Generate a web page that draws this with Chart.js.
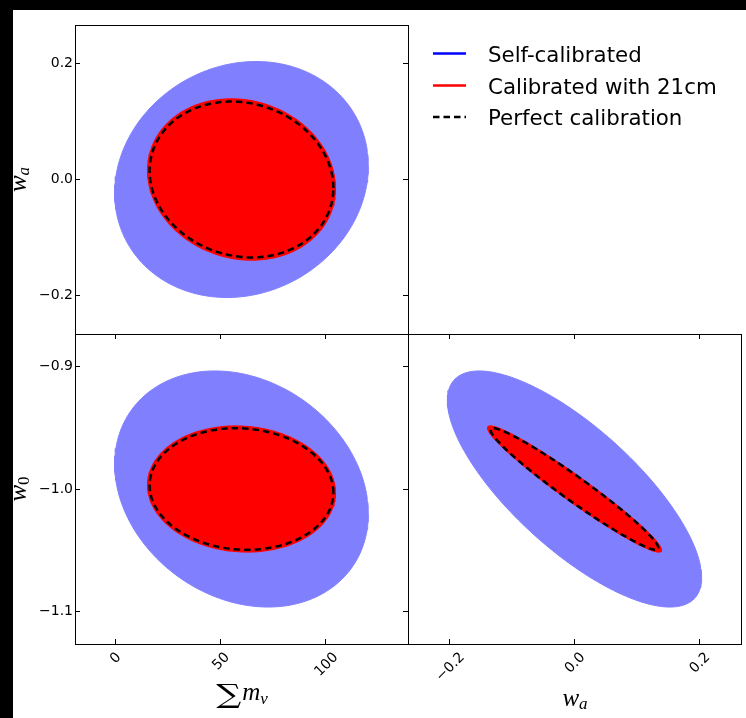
<!DOCTYPE html>
<html>
<head>
<meta charset="utf-8">
<script src="https://cdn.jsdelivr.net/npm/chart.js@4.4.0/dist/chart.umd.min.js"></script>
<style>
  html, body { margin: 0; padding: 0; background: #fff; }
  #page { position: relative; width: 746px; height: 718px; overflow: hidden; background: #fff; }
  .band { position: absolute; background: #000; }
  canvas { position: absolute; left: 0; top: 0; }
</style>
</head>
<body>
<div id="page">
  <div class="band" style="left:0;top:0;width:746px;height:10px"></div>
  <div class="band" style="left:0;top:0;width:13px;height:718px"></div>
  <canvas id="massWa" width="746" height="718"></canvas>
  <canvas id="massW0" width="746" height="718"></canvas>
  <canvas id="waW0" width="746" height="718"></canvas>
</div>
<script>
// parameter order everywhere: [sum m_nu, w0, wa]
const fiducial = [60, -1.0, 0.0];

// half-widths of each contour along each parameter
const selfHalf    = [60.2, 0.0965, 0.2037];
const withHalf    = [44.5, 0.0514, 0.1390];
const perfectHalf = [43.6, 0.0497, 0.1345];

// correlations: [mnu-wa, mnu-w0, wa-w0]
const selfRho    = [0.115, -0.21, -0.75];
const withRho    = [-0.11, -0.06, -0.97];
const perfectRho = [-0.11, -0.06, -0.97];

const seriesNames = ['Self-calibrated', 'Calibrated with 21cm', 'Perfect calibration'];

const massTicks = [0, 50, 100];
const waTicks = [-0.2, 0.0, 0.2];
const w0Ticks = [-0.9, -1.0, -1.1];

const massRange = [-19, 139];
const waRange = [-0.2667, 0.2667];
const w0Range = [-1.1267, -0.8733];

const TICK_FONT = '14px "DejaVu Sans"';
const MATH = 'italic 25px "Liberation Serif"';
const MATH_SUB = 'italic 17px "Liberation Serif"';

const fmt1 = (v) => v.toFixed(1).replace('-', '\u2212');
const fmt0 = (v) => v.toFixed(0);

// outline of a 2d contour with given centre, half-widths and correlation
const ellipse = (cx, cy, ax, ay, rho) => {
  const pts = [];
  const s = Math.sqrt(1 - rho * rho);
  for (let i = 0; i <= 180; i++) {
    const t = i / 180 * 2 * Math.PI;
    pts.push({ x: cx + ax * Math.cos(t), y: cy + ay * (rho * Math.cos(t) + s * Math.sin(t)) });
  }
  return pts;
};

const contourSets = (ix, iy, ir) => [
  {
    label: seriesNames[0],
    data: ellipse(fiducial[ix], fiducial[iy], selfHalf[ix], selfHalf[iy], selfRho[ir]),
    backgroundColor: '#8080ff', borderColor: '#8080ff', borderWidth: 1,
    fill: 'shape', order: 3
  },
  {
    label: seriesNames[1],
    data: ellipse(fiducial[ix], fiducial[iy], withHalf[ix], withHalf[iy], withRho[ir]),
    backgroundColor: '#ff0000', borderColor: '#ff0000', borderWidth: 1.5,
    fill: 'shape', order: 2
  },
  {
    label: seriesNames[2],
    data: ellipse(fiducial[ix], fiducial[iy], perfectHalf[ix], perfectHalf[iy], perfectRho[ir]),
    borderColor: '#000', borderWidth: 2.5, borderDash: [6.5, 4],
    fill: false, order: 1
  }
].map(d => ({ ...d, showLine: true, pointRadius: 0, tension: 0 }));

// one side of a panel frame; marks = inward tick marks, fmt = tick labels
const axis = (position, range, ticks, marks, fmt, size = 0) => ({
  type: 'linear',
  position: position,
  min: range[0],
  max: range[1],
  afterBuildTicks: (s) => { s.ticks = ticks.map(v => ({ value: v })); },
  afterFit: (s) => { if (s.isHorizontal()) s.height = size; else s.width = size; },
  grid: {
    display: marks, drawOnChartArea: false, drawTicks: true,
    tickLength: -5, tickWidth: 1, tickColor: '#000'
  },
  border: { display: true, color: '#000', width: 1 },
  ticks: {
    display: !!fmt, padding: 7, color: '#000',
    font: { family: 'DejaVu Sans', size: 14 },
    callback: (v) => fmt ? fmt(v) : ''
  }
});

// x tick labels turned 45 degrees and centred under their tick
const drawRotatedTicks = (chart, values, fmt) => {
  const { ctx, chartArea } = chart;
  const sx = chart.scales.x;
  ctx.save();
  ctx.font = TICK_FONT;
  ctx.fillStyle = '#000';
  ctx.textAlign = 'center';
  ctx.textBaseline = 'middle';
  values.forEach(v => {
    const s = fmt(v);
    const half = (ctx.measureText(s).width + 10) * Math.SQRT1_2 / 2;
    ctx.save();
    ctx.translate(sx.getPixelForValue(v), chartArea.bottom + 7 + half);
    ctx.rotate(-Math.PI / 4);
    ctx.fillText(s, 0, 1);
    ctx.restore();
  });
  ctx.restore();
};

// axis title built from pieces (base letter, subscript ...), centred on x
const drawMath = (ctx, parts, x, y, rot) => {
  ctx.save();
  ctx.translate(x, y);
  ctx.rotate(rot);
  ctx.fillStyle = '#000';
  ctx.textAlign = 'left';
  ctx.textBaseline = 'alphabetic';
  let total = 0;
  parts.forEach(p => {
    ctx.font = p.font;
    p.w = ctx.measureText(p.text).width * (p.sx || 1);
    total += p.w + (p.gap || 0);
  });
  let cx = -total / 2;
  parts.forEach(p => {
    ctx.font = p.font;
    ctx.save();
    ctx.translate(cx, p.dy || 0);
    ctx.scale(p.sx || 1, 1);
    ctx.fillText(p.text, 0, 0);
    ctx.restore();
    cx += p.w + (p.gap || 0);
  });
  ctx.restore();
};

const drawLegend = (ctx) => {
  const rows = [53.5, 85.5, 117];
  const colors = ['#0000ff', '#ff0000', '#000'];
  ctx.save();
  ctx.font = '21.33px "DejaVu Sans"';
  ctx.textBaseline = 'alphabetic';
  ctx.fillStyle = '#000';
  seriesNames.forEach((name, i) => {
    ctx.beginPath();
    ctx.strokeStyle = colors[i];
    ctx.lineWidth = 2.5;
    ctx.setLineDash(i === 2 ? [6.5, 4] : []);
    ctx.moveTo(433, rows[i]);
    ctx.lineTo(466, rows[i]);
    ctx.stroke();
    ctx.fillText(name, 488, rows[i] + 8);
  });
  ctx.restore();
};

const baseOptions = (padding, scales) => ({
  responsive: false,
  animation: false,
  devicePixelRatio: 1,
  layout: { padding: padding },
  plugins: { legend: { display: false }, tooltip: { enabled: false } },
  scales: scales
});

// top-left: sum m_nu vs wa
new Chart(document.getElementById('massWa'), {
  type: 'scatter',
  data: { datasets: contourSets(0, 2, 0) },
  options: baseOptions({ left: 15, top: 25, right: 338, bottom: 384 }, {
    x: axis('bottom', massRange, massTicks, false),
    xt: axis('top', massRange, massTicks, false),
    y: axis('left', waRange, waTicks, true, fmt1, 60),
    yr: axis('right', waRange, waTicks, true)
  }),
  plugins: [{
    id: 'extrasA',
    afterDraw: (chart) => {
      drawMath(chart.ctx, [
        { text: 'w', font: MATH },
        { text: 'a', font: MATH_SUB, dy: 3 }
      ], 26, 179.5, -Math.PI / 2);
      drawLegend(chart.ctx);
    }
  }]
});

// bottom-left: sum m_nu vs w0
new Chart(document.getElementById('massW0'), {
  type: 'scatter',
  data: { datasets: contourSets(0, 1, 1) },
  options: baseOptions({ left: 15, top: 334, right: 338, bottom: 74 }, {
    x: axis('bottom', massRange, massTicks, true),
    xt: axis('top', massRange, massTicks, true),
    y: axis('left', w0Range, w0Ticks, true, fmt1, 60),
    yr: axis('right', w0Range, w0Ticks, true)
  }),
  plugins: [{
    id: 'extrasB',
    afterDraw: (chart) => {
      drawRotatedTicks(chart, massTicks, fmt0);
      drawMath(chart.ctx, [
        { text: 'w', font: MATH },
        { text: '0', font: '17px "Liberation Serif"', dy: 3 }
      ], 26, 489, -Math.PI / 2);
      drawMath(chart.ctx, [
        { text: '\u2211', font: '26px "DejaVu Serif"', dy: 2.5, sx: 1.35, gap: 1 },
        { text: 'm', font: MATH },
        { text: '\u03bd', font: MATH_SUB, dy: 4 }
      ], 242, 700, 0);
    }
  }]
});

// bottom-right: wa vs w0
new Chart(document.getElementById('waW0'), {
  type: 'scatter',
  data: { datasets: contourSets(2, 1, 2) },
  options: baseOptions({ left: 408, top: 334, right: 5, bottom: 74 }, {
    x: axis('bottom', waRange, waTicks, true),
    xt: axis('top', waRange, waTicks, true),
    y: axis('left', w0Range, w0Ticks, false),
    yr: axis('right', w0Range, w0Ticks, false)
  }),
  plugins: [{
    id: 'extrasC',
    afterDraw: (chart) => {
      drawRotatedTicks(chart, waTicks, fmt1);
      drawMath(chart.ctx, [
        { text: 'w', font: MATH },
        { text: 'a', font: MATH_SUB, dy: 3 }
      ], 575, 706, 0);
    }
  }]
});
</script>
</body>
</html>
